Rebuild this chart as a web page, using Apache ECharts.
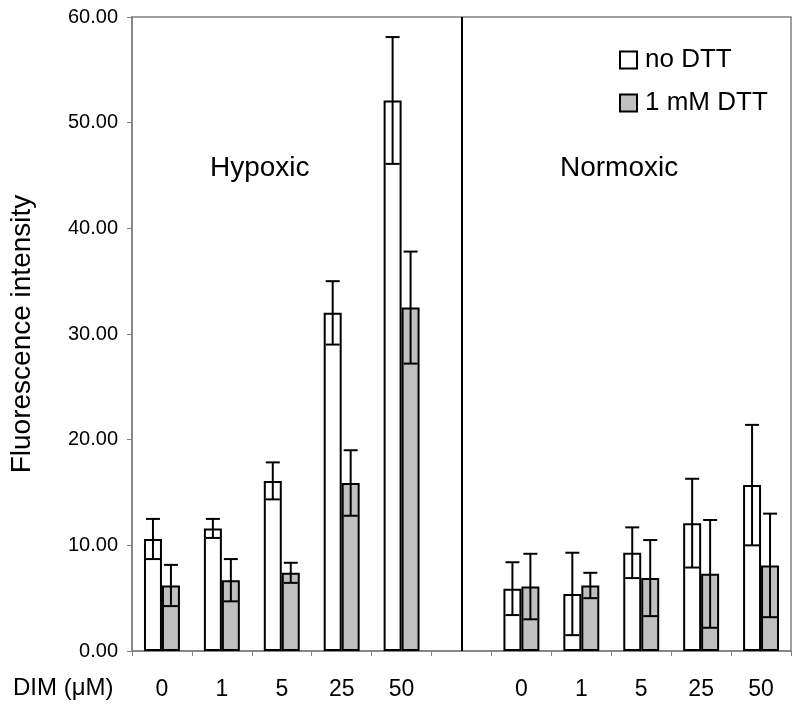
<!DOCTYPE html>
<html>
<head>
<meta charset="utf-8">
<script src="https://cdn.jsdelivr.net/npm/echarts@6/dist/echarts.min.js"></script>
<style>
html,body{margin:0;padding:0;background:#fff;}
#chart{width:800px;height:711px;}
</style>
</head>
<body>
<div id="chart"></div>
<script>
// ---- data ----
var categories = ['0', '1', '5', '25', '50', '', '0', '1', '5', '25', '50'];
var noDTT      = [10.6, 11.6, 16.1, 32.0, 52.1, null, 5.9, 5.4, 9.3, 12.1, 15.7];
var noDTTErr   = [1.9, 0.9, 1.75, 3.0, 6.0, null, 2.5, 3.9, 2.4, 4.2, 5.7];
var dtt        = [6.2, 6.7, 7.4, 15.9, 32.5, null, 6.1, 6.2, 6.9, 7.3, 8.1];
var dttErr     = [1.95, 2.0, 0.95, 3.1, 5.3, null, 3.1, 1.2, 3.6, 5.1, 4.9];
var yTicks     = [0, 10, 20, 30, 40, 50, 60];
var groupLabels = ['Hypoxic', 'Normoxic'];
var seriesNames = ['no DTT', '1 mM DTT'];
var xAxisTitle = 'DIM (\u03bcM)';
var yAxisTitle = 'Fluorescence intensity';
var dividerIndex = 5;

var FONT = 'Liberation Sans, Arial, sans-serif';

function errData(vals, errs) {
  var out = [];
  for (var i = 0; i < vals.length; i++) {
    if (vals[i] == null) continue;
    out.push([i, vals[i], errs[i]]);
  }
  return out;
}

function errRender(side) {
  return function (params, api) {
    var x = api.value(0), v = api.value(1), e = api.value(2);
    var band = api.size([1, 0])[0];
    var off = side * band * 0.15;
    var top = api.coord([x, v + e]);
    var bot = api.coord([x, v - e]);
    var cx = top[0] + off;
    var cap = 7;
    var st = { stroke: '#000', lineWidth: 2 };
    return {
      type: 'group',
      children: [
        { type: 'line', shape: { x1: cx, y1: top[1], x2: cx, y2: bot[1] }, style: st },
        { type: 'line', shape: { x1: cx - cap, y1: top[1], x2: cx + cap, y2: top[1] }, style: st },
        { type: 'line', shape: { x1: cx - cap, y1: bot[1], x2: cx + cap, y2: bot[1] }, style: st }
      ]
    };
  };
}

var chart = echarts.init(document.getElementById('chart'), null, { renderer: 'canvas' });

var option = {
  animation: false,
  backgroundColor: '#fff',
  textStyle: { fontFamily: FONT },
  grid: {
    left: 132, right: 9, top: 17, bottom: 60,
    show: true, borderColor: '#808080', borderWidth: 1.5, backgroundColor: 'transparent'
  },
  legend: {
    data: seriesNames,
    orient: 'vertical',
    left: 614, top: 42,
    itemWidth: 17, itemHeight: 17, itemGap: 17,
    icon: 'rect',
    textStyle: { fontFamily: FONT, fontSize: 26, color: '#000', padding: [0, 0, 0, 3] },
    selectedMode: false
  },
  xAxis: {
    type: 'category',
    data: categories,
    boundaryGap: true,
    axisLine: { lineStyle: { color: '#808080', width: 1.5 } },
    axisTick: { show: true, length: 5, lineStyle: { color: '#808080' }, alignWithLabel: false, interval: 0 },
    axisLabel: { interval: 0, margin: 27, fontSize: 23, color: '#000', fontFamily: FONT },
    splitLine: { show: false }
  },
  yAxis: {
    type: 'value',
    min: yTicks[0], max: yTicks[yTicks.length - 1], interval: 10,
    name: yAxisTitle,
    nameLocation: 'middle',
    nameRotate: 90,
    nameGap: 96,
    nameTextStyle: { fontSize: 28, color: '#000', fontFamily: FONT },
    axisLine: { show: true, lineStyle: { color: '#808080', width: 1.5 } },
    axisTick: { show: true, length: 5, inside: false, lineStyle: { color: '#808080' } },
    axisLabel: { margin: 14, fontSize: 20, color: '#000', fontFamily: FONT,
      formatter: function (v) { return v.toFixed(2); } },
    splitLine: { show: false }
  },
  graphic: [
    { type: 'text', left: 13, top: 676, style: { text: xAxisTitle, fontSize: 24, fontFamily: FONT, fill: '#000' } },
    { type: 'text', left: 210, top: 154, style: { text: groupLabels[0], fontSize: 28, fontFamily: FONT, fill: '#000' } },
    { type: 'text', left: 560, top: 154, style: { text: groupLabels[1], fontSize: 28, fontFamily: FONT, fill: '#000' } }
  ],
  series: [
    {
      name: seriesNames[0], type: 'bar', data: noDTT,
      barWidth: '30%', barGap: '0%',
      itemStyle: { color: '#ffffff', borderColor: '#000', borderWidth: 2 },
      z: 2
    },
    {
      name: seriesNames[1], type: 'bar', data: dtt,
      barWidth: '30%', barGap: '0%',
      itemStyle: { color: '#c0c0c0', borderColor: '#000', borderWidth: 2 },
      z: 2
    },
    {
      name: 'errNo', type: 'custom', data: errData(noDTT, noDTTErr),
      encode: { x: 0, y: 1 }, renderItem: errRender(-1), z: 5, silent: true,
      markLine: {
        silent: true, symbol: 'none',
        label: { show: false },
        lineStyle: { color: '#000', width: 2, type: 'solid' },
        data: [{ xAxis: dividerIndex }]
      }
    },
    {
      name: 'errDtt', type: 'custom', data: errData(dtt, dttErr),
      encode: { x: 0, y: 1 }, renderItem: errRender(1), z: 5, silent: true
    }
  ]
};
chart.setOption(option);
</script>
</body>
</html>
